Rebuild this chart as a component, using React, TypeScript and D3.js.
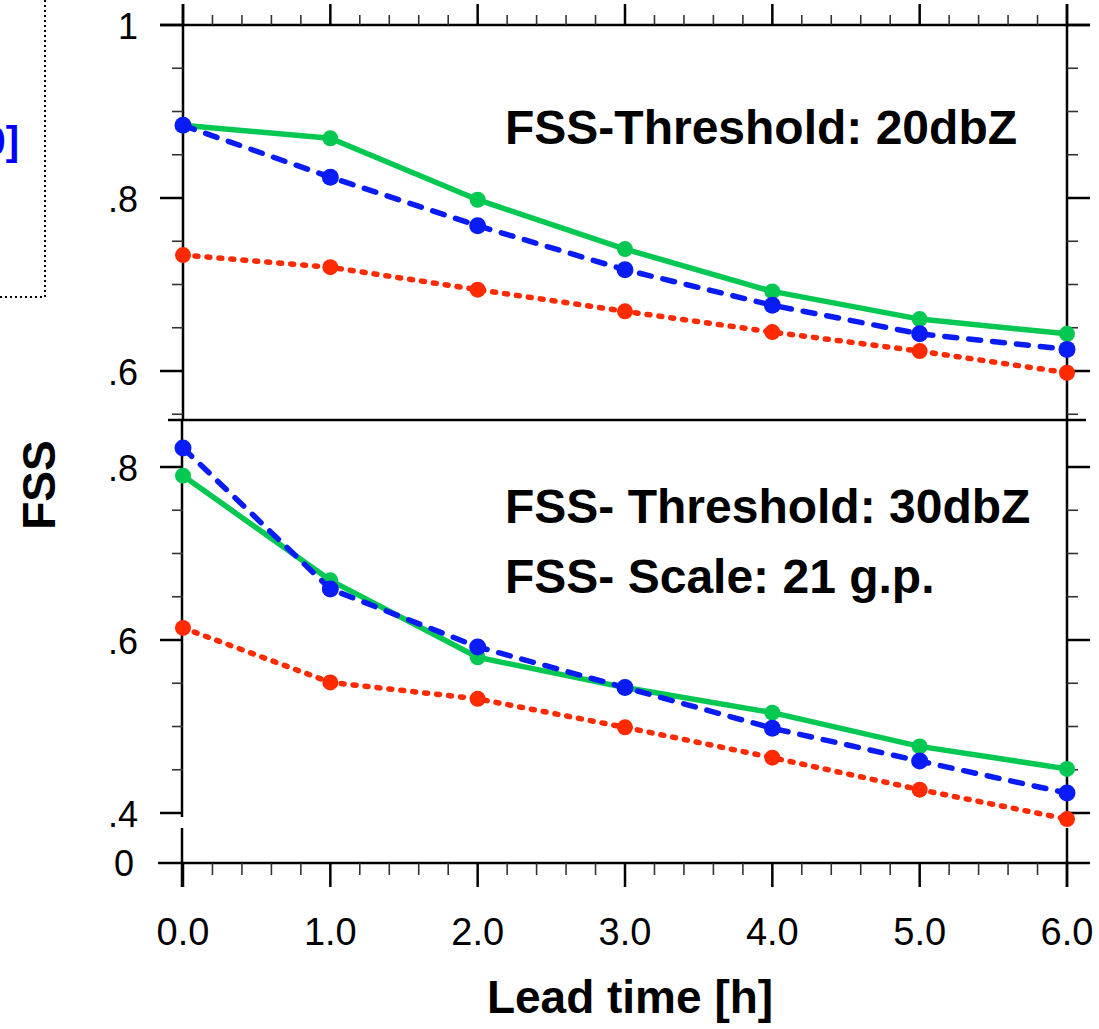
import React from "react"
import * as d3 from "d3"

// lead time in hours
const leadTimes = [0, 1, 2, 3, 4, 5, 6]
const xTickLabels = ["0.0", "1.0", "2.0", "3.0", "4.0", "5.0", "6.0"]

// upper panel: threshold 20 dbZ
const top20Green = [0.884, 0.869, 0.798, 0.741, 0.692, 0.660, 0.643]
const top20Blue = [0.884, 0.824, 0.768, 0.717, 0.676, 0.643, 0.625]
const top20Red = [0.734, 0.720, 0.694, 0.669, 0.645, 0.623, 0.598]

// lower panel: threshold 30 dbZ, scale 21 g.p.
const bot30Green = [0.790, 0.669, 0.580, 0.545, 0.516, 0.477, 0.451]
const bot30Blue = [0.822, 0.659, 0.592, 0.545, 0.498, 0.460, 0.423]
const bot30Red = [0.614, 0.551, 0.532, 0.499, 0.464, 0.427, 0.393]

const topYTicks = [1, 0.8, 0.6]
const topYLabels = ["1", ".8", ".6"]
const botYTicks = [0.8, 0.6, 0.4]
const botYLabels = [".8", ".6", ".4"]

const FONT = "'Liberation Sans', Arial, Helvetica, sans-serif"
const GREEN = "#05c853"
const BLUE = "#0a1cf5"
const RED = "#ff2a00"

export default function App() {
  const W = 1099
  const H = 1029
  const left = 183
  const right = 1067
  const topY0 = 25 // top frame of upper panel
  const midY = 420 // boundary between panels
  const breakTop = 817
  const breakBot = 828
  const axisY = 863 // bottom x axis (after the break)

  const x = d3.scaleLinear().domain([0, 6]).range([left, right])
  const yTop = d3.scaleLinear().domain([0.6, 1]).range([371, topY0])
  const yBot = d3.scaleLinear().domain([0.4, 0.8]).range([813, 467])

  const minorX = d3.range(0, 6.001, 0.2).filter(v => Math.abs(v - Math.round(v)) > 1e-6)
  const topMinorY = d3.range(0.55, 1.0001, 0.05).filter(v => Math.abs(v * 5 - Math.round(v * 5)) > 1e-6)
  const botMinorY = d3.range(0.45, 0.8001, 0.05).filter(v => Math.abs(v * 5 - Math.round(v * 5)) > 1e-6)

  const series = (vals: number[], y: d3.ScaleLinear<number, number>) =>
    vals.map((v, i) => [x(leadTimes[i]), y(v)] as [number, number])
  const line = d3.line()

  // drawing order: red below, blue on top
  const styles = [
    { key: "red", color: RED, dash: "3,9", r: 8 },
    { key: "green", color: GREEN, dash: null, r: 8 },
    { key: "blue", color: BLUE, dash: "12,12", r: 8.5 },
  ]

  const panels = [
    { y: yTop, data: { red: top20Red, green: top20Green, blue: top20Blue } },
    { y: yBot, data: { red: bot30Red, green: bot30Green, blue: bot30Blue } },
  ]

  return (
    <svg width={W} height={H} style={{ position: "absolute", left: 0, top: 0, background: "#fff" }}>
      {/* clipped legend box on the left */}
      <text x={19} y={155} fontFamily={FONT} fontWeight="bold" fontSize={40} fill="#0000ff" textAnchor="end">
        [Exp. 20]
      </text>
      <path d="M45,0 V297 H0" fill="none" stroke="#000" strokeWidth={2} strokeDasharray="2,3" />

      {/* upper panel frame */}
      <g stroke="#000" fill="none">
        <line x1={160} x2={1090} y1={topY0} y2={topY0} strokeWidth={2.5} />
        <line x1={168} x2={1086} y1={midY} y2={midY} strokeWidth={2.5} />
        <line x1={left} x2={left} y1={4} y2={midY} strokeWidth={2.5} />
        <line x1={right} x2={right} y1={4} y2={midY} strokeWidth={2.5} />
        {leadTimes.map(t => (
          <line key={"tx" + t} x1={x(t)} x2={x(t)} y1={topY0} y2={4} strokeWidth={2.5} />
        ))}
        {minorX.map(t => (
          <line key={"tmx" + t} x1={x(t)} x2={x(t)} y1={topY0} y2={15} strokeWidth={1.6} stroke="#333" />
        ))}
        {topYTicks.map(v => (
          <g key={"ty" + v}>
            <line x1={left - 23} x2={left} y1={yTop(v)} y2={yTop(v)} strokeWidth={2.5} />
            <line x1={right} x2={right + 23} y1={yTop(v)} y2={yTop(v)} strokeWidth={2.5} />
          </g>
        ))}
        {topMinorY.map(v => (
          <g key={"tmy" + v}>
            <line x1={left - 11} x2={left} y1={yTop(v)} y2={yTop(v)} strokeWidth={1.6} stroke="#333" />
            <line x1={right} x2={right + 11} y1={yTop(v)} y2={yTop(v)} strokeWidth={1.6} stroke="#333" />
          </g>
        ))}
      </g>

      {/* lower panel frame with broken y axis */}
      <g stroke="#000" fill="none">
        <line x1={left - 1} x2={left - 1} y1={midY} y2={breakTop} strokeWidth={2.5} />
        <line x1={left - 1} x2={left - 1} y1={breakBot} y2={887} strokeWidth={2.5} />
        <line x1={right} x2={right} y1={midY} y2={breakTop} strokeWidth={2.5} />
        <line x1={right} x2={right} y1={breakBot} y2={887} strokeWidth={2.5} />
        <line x1={158} x2={1090} y1={axisY} y2={axisY} strokeWidth={2.5} />
        {leadTimes.map(t => (
          <line key={"bx" + t} x1={x(t)} x2={x(t)} y1={axisY} y2={887} strokeWidth={2.5} />
        ))}
        {minorX.map(t => (
          <line key={"bmx" + t} x1={x(t)} x2={x(t)} y1={axisY} y2={875} strokeWidth={1.6} stroke="#333" />
        ))}
        {botYTicks.map(v => (
          <g key={"by" + v}>
            <line x1={left - 23} x2={left} y1={yBot(v)} y2={yBot(v)} strokeWidth={2.5} />
            <line x1={right} x2={right + 23} y1={yBot(v)} y2={yBot(v)} strokeWidth={2.5} />
          </g>
        ))}
        {botMinorY.map(v => (
          <g key={"bmy" + v}>
            <line x1={left - 11} x2={left} y1={yBot(v)} y2={yBot(v)} strokeWidth={1.6} stroke="#333" />
            <line x1={right} x2={right + 11} y1={yBot(v)} y2={yBot(v)} strokeWidth={1.6} stroke="#333" />
          </g>
        ))}
      </g>

      {/* y tick labels */}
      <g fontFamily={FONT} fontSize={36} textAnchor="end" fill="#000">
        {topYTicks.map((v, i) => (
          <text key={"tyl" + v} x={138} y={yTop(v) + 14}>{topYLabels[i]}</text>
        ))}
        {botYTicks.map((v, i) => (
          <text key={"byl" + v} x={138} y={yBot(v) + 14}>{botYLabels[i]}</text>
        ))}
        <text x={134} y={axisY + 13}>0</text>
      </g>

      {/* x tick labels */}
      <g fontFamily={FONT} fontSize={38} textAnchor="middle" fill="#000">
        {leadTimes.map((t, i) => (
          <text key={"xl" + t} x={x(t)} y={945}>{xTickLabels[i]}</text>
        ))}
      </g>

      {/* data */}
      {panels.map((p, pi) => (
        <g key={"p" + pi}>
          {styles.map(s => {
            const pts = series((p.data as any)[s.key], p.y)
            return (
              <g key={s.key}>
                <path d={line(pts) || ""} fill="none" stroke={s.color} strokeWidth={5.5}
                  strokeLinecap={s.dash ? "round" : "butt"} strokeLinejoin="round"
                  strokeDasharray={s.dash || undefined} />
                {pts.map((pt, i) => (
                  <circle key={i} cx={pt[0]} cy={pt[1]} r={s.r} fill={s.color} />
                ))}
              </g>
            )
          })}
        </g>
      ))}

      {/* annotations */}
      <g fontFamily={FONT} fontWeight="bold" fontSize={48} fill="#000">
        <text x={505} y={144}>FSS-Threshold: 20dbZ</text>
        <text x={505} y={523}>FSS- Threshold: 30dbZ</text>
        <text x={505} y={593}>FSS- Scale: 21 g.p.</text>
        <text x={630} y={1013} fontSize={46} textAnchor="middle">Lead time [h]</text>
        <text transform="translate(55,485) rotate(-90)" fontSize={46} textAnchor="middle">FSS</text>
      </g>
    </svg>
  )
}
